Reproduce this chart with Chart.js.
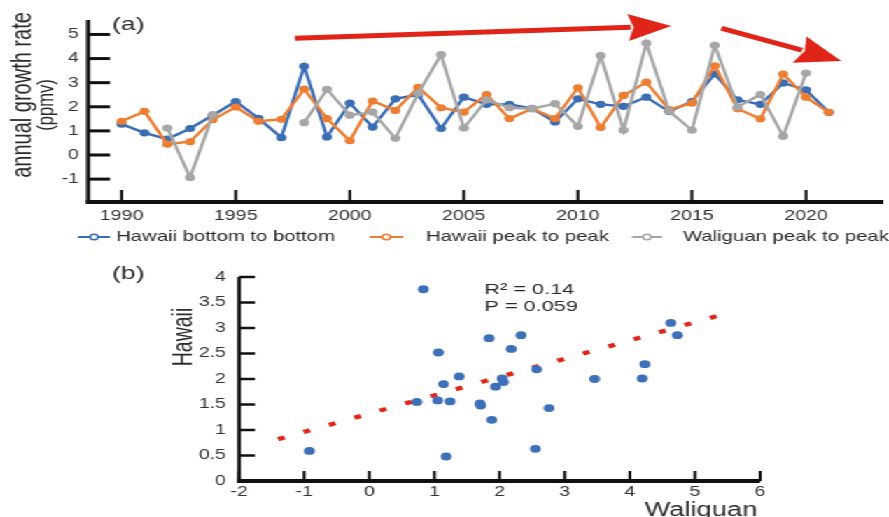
<!DOCTYPE html>
<html><head><meta charset="utf-8">
<script src="https://cdn.jsdelivr.net/npm/chart.js@4.4.1/dist/chart.umd.min.js"></script>
<style>
html,body{margin:0;padding:0;background:#fff;overflow:hidden;width:889px;height:517px;}
#wrap{position:absolute;left:0;top:0;width:635px;height:517px;transform:scaleX(1.4);transform-origin:0 0;}
#c1{position:absolute;left:0;top:0;}
#c2{position:absolute;left:0;top:255px;}
</style></head><body>
<div id="wrap"><canvas id="c1" width="635" height="255"></canvas><canvas id="c2" width="635" height="262"></canvas></div>
<script>
// ---------- data: panel (a) ----------
const years = [1990,1991,1992,1993,1994,1995,1996,1997,1998,1999,2000,2001,2002,2003,2004,2005,2006,2007,2008,2009,2010,2011,2012,2013,2014,2015,2016,2017,2018,2019,2020,2021];
const hawaiiBottom = [1.28,0.92,0.66,1.10,1.65,2.22,1.52,0.72,3.68,0.75,2.15,1.16,2.33,2.50,1.10,2.40,2.10,2.10,1.93,1.37,2.33,2.10,2.02,2.40,1.80,2.22,3.36,2.29,2.10,2.99,2.70,1.77];
const hawaiiPeak = [1.40,1.81,0.45,0.55,1.47,1.99,1.40,1.48,2.73,1.51,0.59,2.24,1.85,2.81,1.96,1.78,2.51,1.51,1.92,1.51,2.79,1.14,2.47,3.02,1.88,2.15,3.70,1.92,1.50,3.36,2.40,1.77];
const waliguanPeak = [null,null,1.12,-0.93,1.67,null,null,null,1.34,2.72,1.65,1.78,0.69,2.56,4.16,1.12,2.29,1.96,1.92,2.13,1.19,4.12,1.03,4.64,1.82,1.03,4.55,1.99,2.51,0.78,3.40,null];
const seriesLabels = ['Hawaii bottom to bottom','Hawaii peak to peak','Waliguan peak to peak'];
const xTicksA = [1990,1995,2000,2005,2010,2015,2020];
const yTicksA = [-1,0,1,2,3,4,5];
// trend arrows (start year, start value, tip year, tip value)
const arrowA = [1997.6, 4.84, 2014.1, 5.35];
const arrowB = [2016.29, 5.26, 2021.55, 3.90];

// ---------- data: panel (b) ----------
const waliguanX = [0.83,-0.92,0.73,1.06,1.05,1.14,1.18,1.24,1.38,1.70,1.71,1.84,1.88,1.94,2.04,2.06,2.18,2.33,2.57,2.55,2.76,3.46,4.19,4.23,4.63,4.73];
const hawaiiY   = [3.76,0.59,1.55,2.52,1.58,1.90,0.48,1.56,2.05,1.52,1.48,2.80,1.20,1.85,2.01,1.94,2.59,2.86,2.19,0.63,1.43,2.00,2.01,2.29,3.10,2.86];
const fitX = [-1.4, 5.52];
const fitY = [0.82, 3.30];
const xTicksB = [-2,-1,0,1,2,3,4,5,6];
const yTicksB = [0,0.5,1,1.5,2,2.5,3,3.5,4];
const statText = ['R\u00B2 = 0.14','P = 0.059'];

// ---------- styles ----------
const FONT = "'Liberation Sans', Arial, Helvetica, sans-serif";
const BLUE = '#3a6db4', ORANGE = '#ed7d31', GRAY = '#a6a6a6', RED = '#e02418', DOT = '#3d70b8';
const AXIS = '#111', TXT = '#2a2a2a', TICKTXT = '#333';

function seq(vals){ return years.map((y,i)=>({x:y, y:vals[i]})); }

function drawArrow(ctx, xs, ys, spec, L, W, lw){
  const x0 = xs.getPixelForValue(spec[0]), y0 = ys.getPixelForValue(spec[1]);
  const x1 = xs.getPixelForValue(spec[2]), y1 = ys.getPixelForValue(spec[3]);
  const len = Math.hypot(x1-x0, y1-y0), dx = (x1-x0)/len, dy = (y1-y0)/len;
  const bx = x1 - L*dx, by = y1 - L*dy, nx = -dy, ny = dx;
  ctx.strokeStyle = RED; ctx.fillStyle = RED; ctx.lineWidth = lw; ctx.lineCap = 'butt';
  ctx.beginPath(); ctx.moveTo(x0,y0); ctx.lineTo(bx+2*dx, by+2*dy); ctx.stroke();
  ctx.beginPath(); ctx.moveTo(x1,y1); ctx.lineTo(bx+W*nx, by+W*ny); ctx.lineTo(bx+4*dx, by+4*dy); ctx.lineTo(bx-W*nx, by-W*ny); ctx.closePath(); ctx.fill();
}

const axesA = {
  id:'axesA',
  beforeDatasetsDraw(chart){
    const {ctx, chartArea:a, scales:{x,y}} = chart;
    ctx.save();
    ctx.strokeStyle = AXIS;
    ctx.lineWidth = 2.9;
    ctx.beginPath(); ctx.moveTo(a.left, a.top); ctx.lineTo(a.left, a.bottom+2); ctx.stroke();
    ctx.lineWidth = 4;
    ctx.beginPath(); ctx.moveTo(a.left-1.45, a.bottom); ctx.lineTo(a.right, a.bottom); ctx.stroke();
    ctx.lineWidth = 3;
    y.ticks.forEach(t=>{ const p=y.getPixelForValue(t.value); ctx.beginPath(); ctx.moveTo(a.left,p); ctx.lineTo(a.left+15.7,p); ctx.stroke(); });
    ctx.lineWidth = 2.1;
    x.ticks.forEach(t=>{ const p=x.getPixelForValue(t.value); ctx.beginPath(); ctx.moveTo(p,a.bottom); ctx.lineTo(p,a.bottom-12); ctx.stroke(); });
    ctx.restore();
  },
  afterDraw(chart){
    const {ctx, scales:{x,y}} = chart;
    ctx.save();
    drawArrow(ctx, x, y, arrowA, 31, 13.5, 5);
    drawArrow(ctx, x, y, arrowB, 32, 14, 4.8);
    // panel label
    ctx.fillStyle = TXT; ctx.textAlign='left'; ctx.textBaseline='alphabetic';
    ctx.font = `19px ${FONT}`;
    ctx.fillText('(a)', 80, 30);
    // y title
    ctx.save(); ctx.translate(21.5, 95); ctx.rotate(-Math.PI/2); ctx.textAlign='center';
    ctx.font = `20px ${FONT}`; ctx.fillText('annual growth rate', 0, 0); ctx.restore();
    ctx.save(); ctx.translate(38, 105); ctx.rotate(-Math.PI/2); ctx.textAlign='center';
    ctx.font = `16.5px ${FONT}`; ctx.fillText('(ppmv)', 0, 0); ctx.restore();
    // legend
    const lx = [[55.7,78.6,82.9],[264,288,304.3],[451.4,472.9,487.9]];
    const ly = 237;
    chart.data.datasets.forEach((ds,i)=>{
      const [a,b,t] = lx[i];
      ctx.strokeStyle = ds.borderColor; ctx.lineWidth = 2;
      ctx.beginPath(); ctx.moveTo(a,ly); ctx.lineTo(b,ly); ctx.stroke();
      ctx.fillStyle = '#fff'; ctx.lineWidth = 1.5;
      ctx.beginPath(); ctx.arc((a+b)/2, ly, 2.8, 0, Math.PI*2); ctx.fill(); ctx.stroke();
      ctx.fillStyle = TXT; ctx.font = `14.5px ${FONT}`; ctx.textBaseline='middle'; ctx.textAlign='left';
      ctx.fillText(ds.label, t, ly);
    });
    ctx.restore();
  }
};

const axesB = {
  id:'axesB',
  beforeDatasetsDraw(chart){
    const {ctx, chartArea:a, scales:{x,y}} = chart;
    ctx.save();
    ctx.strokeStyle = AXIS;
    ctx.lineWidth = 2.6;
    ctx.beginPath(); ctx.moveTo(a.left, a.top); ctx.lineTo(a.left, a.bottom+2); ctx.stroke();
    ctx.lineWidth = 4;
    ctx.beginPath(); ctx.moveTo(a.left-1.3, a.bottom); ctx.lineTo(a.right, a.bottom); ctx.stroke();
    ctx.lineWidth = 2.5;
    y.ticks.forEach(t=>{ const p=y.getPixelForValue(t.value); ctx.beginPath(); ctx.moveTo(a.left,p); ctx.lineTo(a.left+11.4,p); ctx.stroke(); });
    ctx.lineWidth = 2.1;
    x.ticks.forEach(t=>{ const p=x.getPixelForValue(t.value); ctx.beginPath(); ctx.moveTo(p,a.bottom); ctx.lineTo(p,a.bottom-10); ctx.stroke(); });
    ctx.restore();
  },
  afterDraw(chart){
    const {ctx} = chart;
    ctx.save();
    ctx.fillStyle = TXT; ctx.textAlign='left'; ctx.textBaseline='alphabetic';
    ctx.font = `19px ${FONT}`;
    ctx.fillText('(b)', 80, 24);
    ctx.font = `15.5px ${FONT}`;
    ctx.fillText(statText[0], 346, 38.5);
    ctx.fillText(statText[1], 346, 56);
    ctx.font = `19.5px ${FONT}`; ctx.textAlign='right';
    ctx.fillText('Waliguan', 541, 260.6);
    ctx.save(); ctx.translate(137, 82); ctx.rotate(-Math.PI/2); ctx.textAlign='center';
    ctx.font = `19.5px ${FONT}`; ctx.fillText('Hawaii', 0, 0); ctx.restore();
    ctx.restore();
  }
};

const tickFont = {family: FONT, size: 14};

new Chart(document.getElementById('c1'), {
  type:'line',
  data:{datasets:[
    {label:seriesLabels[0], data:seq(hawaiiBottom), borderColor:BLUE, backgroundColor:BLUE, pointBackgroundColor:BLUE, borderWidth:2.4, pointRadius:3.6, pointBorderWidth:0, order:3, spanGaps:false, tension:0},
    {label:seriesLabels[1], data:seq(hawaiiPeak), borderColor:ORANGE, backgroundColor:ORANGE, pointBackgroundColor:ORANGE, borderWidth:2.4, pointRadius:3.6, pointBorderWidth:0, order:2, spanGaps:false, tension:0},
    {label:seriesLabels[2], data:seq(waliguanPeak), borderColor:GRAY, backgroundColor:GRAY, pointBackgroundColor:GRAY, borderWidth:2.4, pointRadius:3.6, pointBorderWidth:0, order:1, spanGaps:false, tension:0}
  ]},
  options:{
    responsive:false, animation:false, events:[],
    layout:{padding:{left:0,right:0,top:20,bottom:0}},
    plugins:{legend:{display:false}, tooltip:{enabled:false}},
    scales:{
      x:{type:'linear', min:1988.53, max:2023.39,
         grid:{display:false, drawTicks:false}, border:{display:false},
         ticks:{font:tickFont, color:TICKTXT, padding:5.6, maxRotation:0, callback:v=>String(v)},
         afterBuildTicks:s=>{ s.ticks = xTicksA.map(v=>({value:v})); },
         afterFit:s=>{ s.height = 53; }},
      y:{type:'linear', min:-1.95, max:5.6,
         grid:{display:false, drawTicks:false}, border:{display:false},
         ticks:{font:tickFont, color:TICKTXT, padding:6.5, callback:v=>String(v)},
         afterBuildTicks:s=>{ s.ticks = yTicksA.map(v=>({value:v})); },
         afterFit:s=>{ s.width = 62.9; }}
    }
  },
  plugins:[axesA]
});

new Chart(document.getElementById('c2'), {
  type:'scatter',
  data:{datasets:[
    {label:'Hawaii vs Waliguan', data:waliguanX.map((v,i)=>({x:v, y:hawaiiY[i]})), backgroundColor:DOT, pointBackgroundColor:DOT, borderWidth:0, pointBorderWidth:0, pointRadius:3.9, order:0},
    {type:'line', label:'linear fit', data:fitX.map((v,i)=>({x:v, y:fitY[i]})), borderColor:RED, borderWidth:4.2, borderDash:[5,14.5], borderCapStyle:'butt', pointRadius:0, fill:false, showLine:true, order:1}
  ]},
  options:{
    responsive:false, animation:false, events:[],
    layout:{padding:{left:0,right:92,top:22,bottom:0}},
    plugins:{legend:{display:false}, tooltip:{enabled:false}},
    scales:{
      x:{type:'linear', min:-2, max:6,
         grid:{display:false, drawTicks:false}, border:{display:false},
         ticks:{font:tickFont, color:TICKTXT, padding:2.6, maxRotation:0, callback:v=>String(v)},
         afterBuildTicks:s=>{ s.ticks = xTicksB.map(v=>({value:v})); },
         afterFit:s=>{ s.height = 36; }},
      y:{type:'linear', min:0, max:4,
         grid:{display:false, drawTicks:false}, border:{display:false},
         ticks:{font:tickFont, color:TICKTXT, padding:9.3, callback:v=>String(v)},
         afterBuildTicks:s=>{ s.ticks = yTicksB.map(v=>({value:v})); },
         afterFit:s=>{ s.width = 170.7; }}
    }
  },
  plugins:[axesB]
});
</script>
</body></html>
